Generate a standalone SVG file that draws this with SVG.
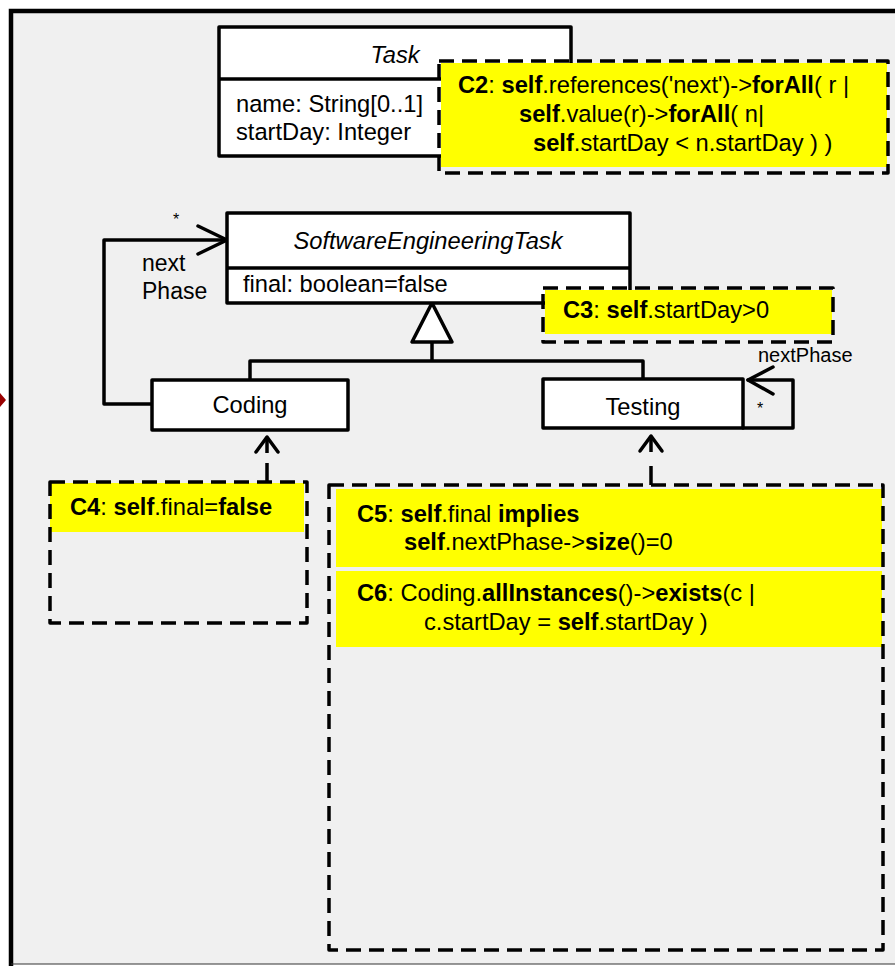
<svg xmlns="http://www.w3.org/2000/svg" width="895" height="966" viewBox="0 0 895 966">
  <style>
    text { font-family: "Liberation Sans", Arial, sans-serif; font-size: 23.7px; fill: #000; }
    .b { font-weight: bold; }
    .it { font-style: italic; }
    .cls { fill: #fff; stroke: #000; stroke-width: 3.5; stroke-linejoin: round; }
    .sep { stroke: #000; stroke-width: 3.5; }
    .note { fill: #ffff00; stroke: none; }
    .dash { fill: none; stroke: #000; stroke-width: 3.5; stroke-dasharray: 15 8; stroke-linejoin: round; }
    .line { fill: none; stroke: #000; stroke-width: 3.5; stroke-linejoin: round; stroke-linecap: round; }
  </style>

  <!-- white page and package frame -->
  <rect x="0" y="0" width="895" height="966" fill="#fff"/>
  <rect x="11" y="11" width="900" height="953" fill="#f0f0f0"/>
  <path d="M11,966 V11 H895" fill="none" stroke="#000" stroke-width="4.5"/>
  <line x1="11" y1="964" x2="895" y2="964" stroke="#333" stroke-width="1"/>
  <polygon points="-7,400 0,393 6,400 0,407" fill="#990000"/>

  <!-- Task class -->
  <g id="task">
    <rect class="cls" x="219" y="27" width="352" height="129"/>
    <line class="sep" x1="219" y1="79" x2="571" y2="79"/>
    <text class="it" x="395" y="63" text-anchor="middle">Task</text>
    <text x="236" y="112">name: String[0..1]</text>
    <text x="236" y="140">startDay: Integer</text>
  </g>

  <!-- constraint C2 -->
  <g id="c2">
    <rect class="note" x="441" y="63" width="446" height="104"/>
    <rect class="dash" x="439" y="61" width="449" height="112"/>
    <text x="458" y="93"><tspan class="b">C2</tspan>: <tspan class="b">self</tspan>.references('next')-&gt;<tspan class="b">forAll</tspan>( r |</text>
    <text x="519" y="122"><tspan class="b">self</tspan>.value(r)-&gt;<tspan class="b">forAll</tspan>( n|</text>
    <text x="533" y="151"><tspan class="b">self</tspan>.startDay &lt; n.startDay ) )</text>
  </g>

  <!-- connectors -->
  <g id="connectors">
    <!-- nextPhase association from Coding -->
    <path class="line" d="M152,404 H104 V240 H225"/>
    <polyline class="line" points="198,226 227,240 198,254"/>
    <text x="173" y="225" style="font-size:16px">*</text>
    <text x="142" y="271" style="font-size:23px">next</text>
    <text x="142" y="299" style="font-size:23px">Phase</text>
    <!-- generalization tree -->
    <path class="line" d="M250,380 V361 H643 V380"/>
    <line class="sep" x1="432" y1="342" x2="432" y2="361"/>
    <polygon points="432,303 412,342 452,342" fill="#fff" stroke="#000" stroke-width="3.5" stroke-linejoin="round"/>
    <!-- nextPhase self association on Testing -->
    <path class="line" d="M743,428 H793 V380 H748"/>
    <polyline class="line" points="773,367 748,380 773,394"/>
    <text x="758" y="362" style="font-size:20px">nextPhase</text>
    <text x="757" y="414" style="font-size:16px">*</text>
    <!-- C4 attached to Coding -->
    <path d="M267,439 V453 M267,463 V482" fill="none" stroke="#000" stroke-width="3.5"/>
    <polyline class="line" points="256,452 267,437 278,452"/>
    <!-- C5/C6 attached to Testing -->
    <path d="M651,438 V452 M651,466 V485" fill="none" stroke="#000" stroke-width="3.5"/>
    <polyline class="line" points="640,451 651,436 662,451"/>
  </g>

  <!-- SoftwareEngineeringTask class -->
  <g id="software-engineering-task">
    <rect class="cls" x="227" y="213" width="403" height="90"/>
    <line class="sep" x1="227" y1="268" x2="630" y2="268"/>
    <text class="it" x="428" y="249" text-anchor="middle">SoftwareEngineeringTask</text>
    <text x="243" y="292">final: boolean=false</text>
  </g>

  <!-- constraint C3 -->
  <g id="c3">
    <rect class="note" x="545" y="290" width="287" height="44"/>
    <rect class="dash" x="543" y="288" width="290" height="54"/>
    <text x="563" y="318"><tspan class="b">C3</tspan>: <tspan class="b">self</tspan>.startDay&gt;0</text>
  </g>

  <!-- Coding class -->
  <g id="coding">
    <rect class="cls" x="152" y="380" width="196" height="50"/>
    <text x="250" y="413" text-anchor="middle">Coding</text>
  </g>

  <!-- Testing class -->
  <g id="testing">
    <rect class="cls" x="543" y="379" width="200" height="49"/>
    <text x="643" y="415" text-anchor="middle">Testing</text>
  </g>

  <!-- constraint C4 -->
  <g id="c4">
    <rect class="note" x="50" y="483" width="254" height="49"/>
    <rect class="dash" x="50" y="482" width="257" height="141"/>
    <text x="70" y="515"><tspan class="b">C4</tspan>: <tspan class="b">self</tspan>.final=<tspan class="b">false</tspan></text>
  </g>

  <!-- constraints C5 and C6 -->
  <g id="c5-c6">
    <rect class="note" x="336" y="489" width="546" height="78"/>
    <rect class="note" x="336" y="571" width="546" height="76"/>
    <rect class="dash" x="329" y="485" width="554" height="465"/>
    <text x="357" y="522"><tspan class="b">C5</tspan>: <tspan class="b">self</tspan>.final <tspan class="b">implies</tspan></text>
    <text x="404" y="550"><tspan class="b">self</tspan>.nextPhase-&gt;<tspan class="b">size</tspan>()=0</text>
    <text x="357" y="601"><tspan class="b">C6</tspan>: Coding.<tspan class="b">allInstances</tspan>()-&gt;<tspan class="b">exists</tspan>(c |</text>
    <text x="424" y="630">c.startDay = <tspan class="b">self</tspan>.startDay )</text>
  </g>
</svg>
